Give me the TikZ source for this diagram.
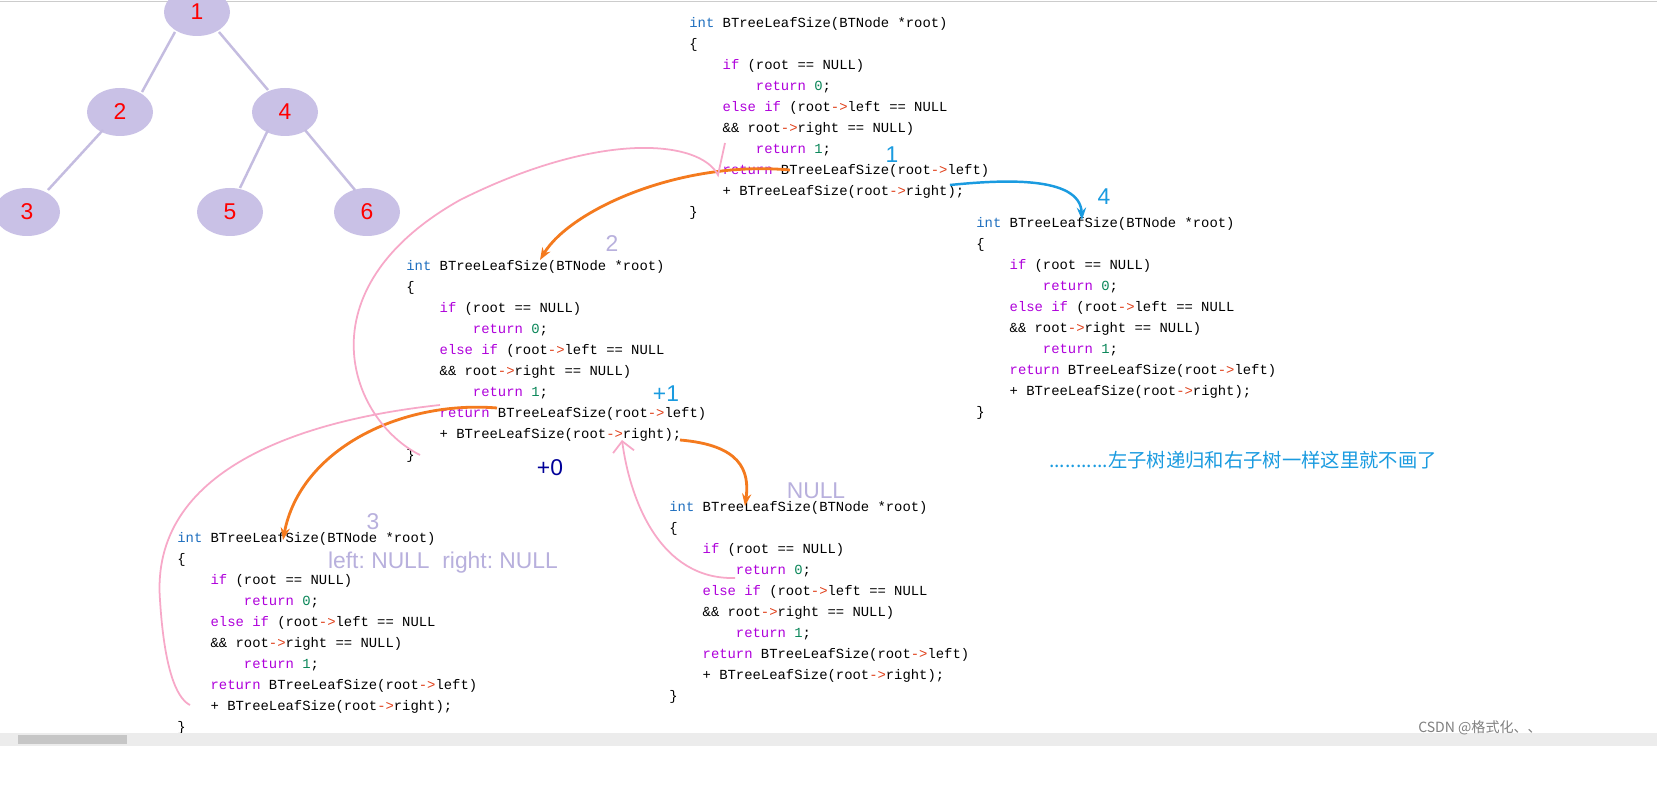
\documentclass[tikz,border=0pt]{standalone}
\usepackage{fontspec}
\setmainfont{Liberation Sans}
\newfontfamily\cmono{Liberation Mono}
\newfontfamily\cjk{Noto Sans CJK SC}
\usetikzlibrary{arrows.meta}
\definecolor{kw}{HTML}{AF00DB}
\definecolor{ty}{HTML}{1F6FBF}
\definecolor{nm}{HTML}{098658}
\definecolor{ar}{HTML}{E0401A}
\definecolor{nodefill}{HTML}{C9C1E6}
\definecolor{edgec}{HTML}{C4BCE0}
\definecolor{lav}{HTML}{B8B0DD}
\definecolor{bl}{HTML}{1A9BE0}
\definecolor{orng}{HTML}{F47A1E}
\definecolor{pnk}{HTML}{F7A8C8}
\newcommand\I{\phantom{xxxx}}
\newcommand\cblock[3]{\node[code] (#1) at (#2,#3) {%
{\color{ty}int} BTreeLeafSize(BTNode *root)\\
\{\\
\I{\color{kw}if} (root == NULL)\\
\I\I{\color{kw}return} {\color{nm}0};\\
\I{\color{kw}else if} (root{\color{ar}->}left == NULL\\
\I\&\& root{\color{ar}->}right == NULL)\\
\I\I{\color{kw}return} {\color{nm}1};\\
\I{\color{kw}return} BTreeLeafSize(root{\color{ar}->}left)\\
\I+ BTreeLeafSize(root{\color{ar}->}right);\\
\}};}
\begin{document}
\begin{tikzpicture}[x=0.02cm,y=-0.02cm,
 code/.style={anchor=north west,inner sep=0pt,align=left,font=\cmono\fontsize{7.9}{11.95}\selectfont},
 tn/.style={ellipse,draw=none,fill=nodefill,minimum width=66\pgflinewidth,text=red,font=\fontsize{13}{13}\selectfont},
 e/.style={edgec,line width=1.4pt},
 oa/.style={orng,line width=1.6pt,-{Stealth[length=7pt]}},
 pk/.style={pnk,line width=1pt},
 ann/.style={font=\fontsize{13}{13}\selectfont}]
\useasboundingbox (0,0) rectangle (1657,787);
\fill[white] (0,0) rectangle (1657,787);
\draw[gray!40] (0,1) -- (1657,1);
% tree
\tikzset{tn/.style={shape=circle,fill=nodefill,text=red,font=\fontsize{13}{13}\selectfont,inner sep=0pt,minimum size=46\pgflinewidth}}
\foreach \n/\x/\y in {1/197/12,2/120/112,4/285/112,3/27/212,5/230/212,6/367/212}{
  \fill[nodefill] (\x,\y) coordinate (t\n) ellipse [x radius=33, y radius=24];
  \node[text=red,font=\fontsize{13}{13}\selectfont] (l\n) at (\x,\y) {\n};}
\draw[e] (175,32) -- (142,92);
\draw[e] (219,32) -- (268,90);
\draw[e] (103,130) -- (48,190);
\draw[e] (268,130) -- (240,188);
\draw[e] (305,130) -- (355,190);
% code blocks
\cblock{b1}{689}{17}
\cblock{b2}{406}{260}
\cblock{b3}{976}{217}
\cblock{b4}{177}{532}
\cblock{b5}{669}{501}
% annotations
\node[ann,text=bl] (a1) at (892,155) {1};
\node[ann,text=bl] (a4) at (1104,197) {4};
\node[ann,text=lav] (a2) at (612,244) {2};
\node[ann,text=bl] (ap1) at (666,394) {+1};
\node[ann,text=blue!60!black] (ap0) at (550,468) {+0};
\node[ann,text=lav] (anull) at (816,491) {NULL};
\node[ann,text=lav] (a3) at (373,522) {3};
\node[ann,text=lav] (alr) at (443,563) {left:\ NULL\ \ right:\ NULL};
\node[ann,text=bl,font=\cjk\fontsize{11}{11}\selectfont] (acn) at (1243,460) {...........左子树递归和右子树一样这里就不画了};
% connectors
\coordinate (o1s) at (790,170); \coordinate (o1e) at (540,260);
\draw[oa] (o1s) .. controls (680,160) and (570,210) .. (o1e);
\coordinate (bs) at (950,185); \coordinate (be) at (1082,220);
\draw[bl,line width=1.4pt,-{Stealth[length=7pt]}] (bs) .. controls (1000,180) and (1080,175) .. (be);
\coordinate (o2s) at (497,408); \coordinate (o2e) at (283,540);
\draw[oa] (o2s) .. controls (400,400) and (300,450) .. (o2e);
\coordinate (o3s) at (680,440); \coordinate (o3e) at (745,506);
\draw[oa] (o3s) .. controls (740,445) and (750,470) .. (o3e);
\coordinate (p1a) at (725,143); \coordinate (p1b) at (420,455);
\draw[pk] (p1a) -- (718,175) .. controls (700,140) and (600,130) .. (460,200)
  .. controls (300,290) and (350,420) .. (p1b);
\coordinate (p2a) at (440,405); \coordinate (p2b) at (190,705);
\draw[pk] (p2a) .. controls (300,420) and (150,470) .. (160,600) .. controls (165,680) and (180,700) .. (p2b);
\coordinate (p3a) at (735,578); \coordinate (p3b) at (622,440);
\draw[pk,-{Straight Barb[length=6pt]}] (p3a) .. controls (660,580) and (630,500) .. (p3b);
% scrollbar and watermark
\fill[gray!15] (0,733) rectangle (1657,746);
\fill[gray!45] (18,735) rectangle (127,744);
\node[text=gray,font=\cjk\fontsize{8}{8}\selectfont] (wm) at (1480,728) {CSDN @格式化、、};
\end{tikzpicture}
\end{document}
